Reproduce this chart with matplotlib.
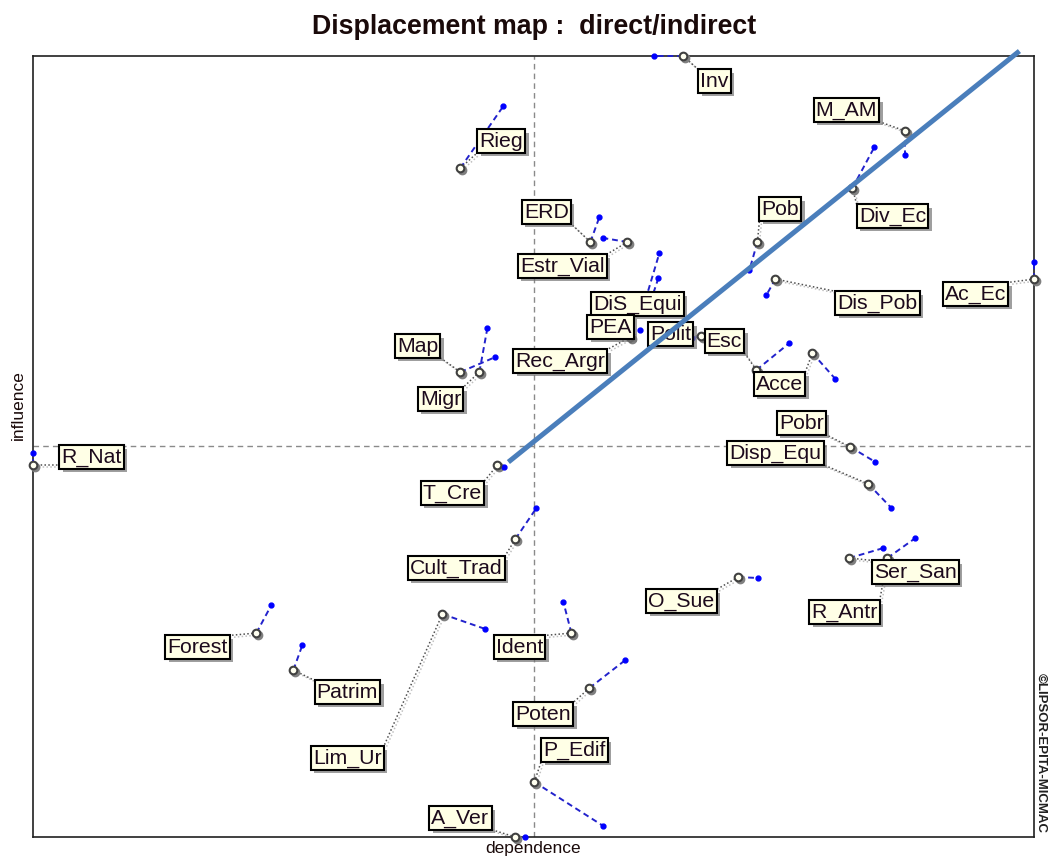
import matplotlib
matplotlib.use("Agg")
import matplotlib.pyplot as plt
import matplotlib.patheffects as pe
from matplotlib.transforms import offset_copy

# variables of the MICMAC displacement map
names = ["Inv", "M_AM", "Div_Ec", "Rieg", "Pob", "ERD", "Estr_Vial", "Ac_Ec",
         "Dis_Pob", "DiS_Equi", "PEA", "Polit", "Esc", "Rec_Argr", "Acce", "Map",
         "Migr", "Pobr", "Disp_Equ", "R_Nat", "T_Cre", "Cult_Trad", "Ser_San",
         "R_Antr", "O_Sue", "Forest", "Ident", "Lim_Ur", "Patrim", "Poten",
         "P_Edif", "A_Ver"]

# direct position (dependence, influence)
direct_dep = [650, 872, 819, 427, 724, 557, 594, 1001, 742, 612, 617, 668, 723, 597, 779, 427,
              446, 817, 835, 0, 464, 482, 816, 854, 705, 223, 538, 409, 260, 556, 501, 482]
direct_inf = [781, 706, 649, 669, 595, 595, 595, 558, 558, 537, 535, 501, 467, 500, 484, 465,
              465, 390, 353, 372, 372, 298, 279, 279, 260, 204, 204, 223, 167, 149, 55, 0]

# indirect position (dependence, influence)
indirect_dep = [621, 872, 841, 470, 716, 566, 570, 1001, 733, 626, 625, 659, 756, 607, 802, 462,
                454, 842, 858, 0, 471, 503, 850, 882, 725, 238, 530, 452, 269, 592, 570, 492]
indirect_inf = [781, 682, 690, 731, 567, 620, 599, 575, 542, 584, 559, 499, 494, 507, 458, 480,
                509, 375, 329, 384, 370, 329, 289, 299, 259, 232, 235, 208, 192, 177, 11, 0]

mean_dep = 501
mean_inf = 391

# hand drawn diagonal
trend_dep = [475, 986]
trend_inf = [375, 786]

# label placement relative to the direct point
label_offset = {
    "Inv": (31, -25), "M_AM": (-59, 21), "Div_Ec": (40, -28), "Rieg": (41, 27),
    "Pob": (23, 33), "ERD": (-44, 30), "Estr_Vial": (-65, -24), "Ac_Ec": (-59, -15),
    "Dis_Pob": (102, -24), "DiS_Equi": (-8, -4), "PEA": (-40, -25), "Polit": (-31, 2),
    "Esc": (-32, 29), "Rec_Argr": (-70, -24), "Acce": (-33, -31), "Map": (-43, 26),
    "Migr": (-39, -27), "Pobr": (-49, 24), "Disp_Equ": (-93, 31), "R_Nat": (58, 8),
    "T_Cre": (-45, -28), "Cult_Trad": (-59, -29), "Ser_San": (66, -14), "R_Antr": (-43, -54),
    "O_Sue": (-57, -24), "Forest": (-59, -14), "Ident": (-52, -14), "Lim_Ur": (-95, -144),
    "Patrim": (54, -22), "Poten": (-46, -26), "P_Edif": (40, 32), "A_Ver": (-55, 19),
}
label_order = ["PEA", "DiS_Equi"]

fig = plt.figure(figsize=(10.49, 8.57), dpi=100)
ax = fig.add_axes([0.0318, 0.0233, 0.9543, 0.9113])
ax.set_xlim(0, 1001)
ax.set_ylim(0, 781)
ax.set_xticks([])
ax.set_yticks([])
for s in ax.spines.values():
    s.set_linewidth(1.2)
    s.set_color("#202020")

ax.axvline(mean_dep, color="#8a8a8a", lw=1.0, ls=(0, (4, 3)), zorder=1)
ax.axhline(mean_inf, color="#8a8a8a", lw=1.0, ls=(0, (4, 3)), zorder=1)

shadow = offset_copy(ax.transData, fig=fig, x=2, y=-2, units="dots")

# labels first so that connectors can end on the box edge
texts = {}
for n, x, y in zip(names, direct_dep, direct_inf):
    dx, dy = label_offset[n]
    z = 7 if n in label_order else 6
    t = ax.text(x + dx, y + dy, n, ha="center", va="center", fontsize=15.3,
                family="Liberation Sans", color="#1c0a1c", zorder=z,
                bbox=dict(boxstyle="square,pad=0.1", fc="#FFFFE6", ec="black", lw=1.5))
    t.get_bbox_patch().set_path_effects([
        pe.SimplePatchShadow(offset=(2.5, -2.5), shadow_rgbFace="#777777", alpha=0.7),
        pe.Normal()])
    texts[n] = t

fig.canvas.draw()
renderer = fig.canvas.get_renderer()
inv = ax.transData.inverted()

for n, x, y, ix, iy in zip(names, direct_dep, direct_inf, indirect_dep, indirect_inf):
    bb = texts[n].get_bbox_patch().get_window_extent(renderer)
    cx, cy = ax.transData.transform((x, y))
    ex = min(max(cx, bb.x0), bb.x1)
    ey = min(max(cy, bb.y0), bb.y1)
    lx, ly = inv.transform((ex, ey))
    # grey dotted connector to the label
    ax.plot([x, lx], [y, ly], color="#505050", lw=1.1, ls=(0, (1, 1.5)), zorder=3, clip_on=False)
    ax.plot([x, lx], [y, ly], color="#c0c0c0", lw=1.1, ls=(0, (1, 1.5)), zorder=2,
            transform=shadow, clip_on=False)
    # blue dashed displacement
    ax.plot([x, ix], [y, iy], color="#2222cc", lw=1.4, ls=(0, (3, 2)), zorder=4, clip_on=False)
    ax.plot(ix, iy, "o", ms=3.5, color="#0000ff", mec="#0000ff", zorder=5, clip_on=False)
    ax.plot(x, y, "o", ms=6, mfc="#808080", mec="#808080", zorder=4, transform=shadow,
            clip_on=False)
    ax.plot(x, y, "o", ms=5.5, mfc="#fffff0", mec="#404040", mew=1.5, zorder=5, clip_on=False)

ax.plot(trend_dep, trend_inf, color="#4a7ebb", lw=3.6, solid_capstyle="butt", zorder=10,
        clip_on=False)

fig.text(534 / 1049, 1 - 27 / 857, "Displacement map :  direct/indirect", ha="center",
         va="center", fontsize=19.3, fontweight="bold", family="Liberation Sans", color="#1a0a0a")
fig.text(18 / 1049, 1 - 405 / 857, "influence", rotation=90, ha="center", va="center",
         fontsize=12.5, family="Liberation Sans", color="#1a0a0a")
fig.text(533 / 1049, 1 - 849 / 857, "dependence", ha="center", va="center",
         fontsize=12.5, family="Liberation Sans", color="#1a0a0a")
fig.text(1041 / 1049, 1 - 753 / 857, "\u00a9LIPSOR-EPITA-MICMAC", rotation=-90, ha="center",
         va="center", fontsize=9.5, fontweight="bold", family="Liberation Sans", color="#202020")

fig.savefig("out.png", dpi=100)
